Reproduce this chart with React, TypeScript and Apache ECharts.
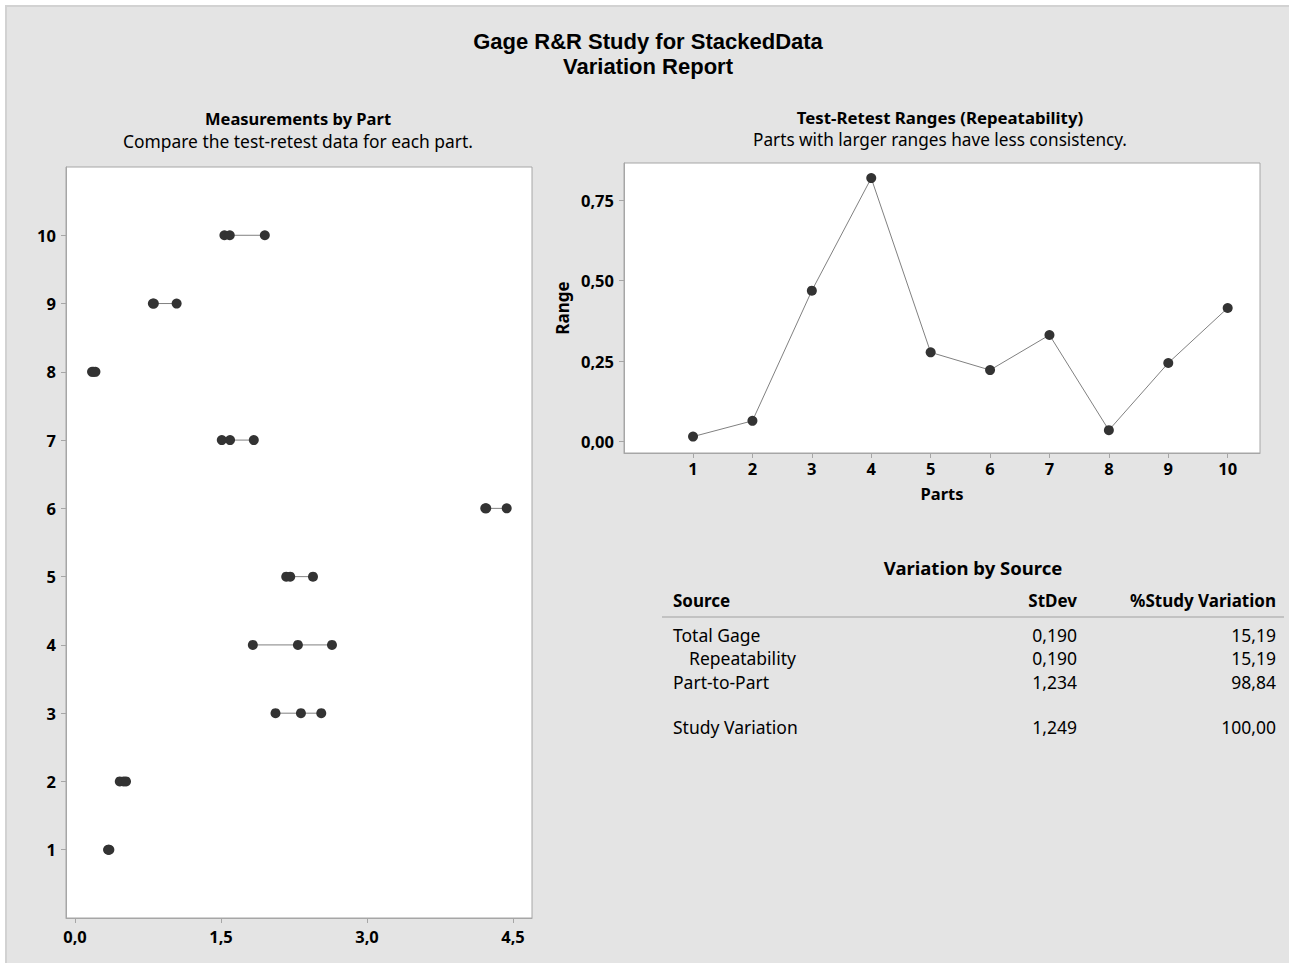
import React, { useEffect, useRef } from "react";
import * as echarts from "echarts";

// ---------- data ----------
const parts = [1, 2, 3, 4, 5, 6, 7, 8, 9, 10];
const measurements: number[][] = [
  [0.34, 0.345, 0.353],
  [0.46, 0.5, 0.524],
  [2.06, 2.321, 2.53],
  [1.827, 2.29, 2.64],
  [2.17, 2.211, 2.445],
  [4.215, 4.225, 4.435],
  [1.508, 1.593, 1.837],
  [0.175, 0.19, 0.21],
  [0.8, 0.81, 1.044],
  [1.535, 1.59, 1.95],
];
const ranges = [0.015, 0.064, 0.469, 0.819, 0.277, 0.222, 0.331, 0.035, 0.244, 0.415];

const measTicks = [0, 1.5, 3, 4.5];
const partTicks = [1, 2, 3, 4, 5, 6, 7, 8, 9, 10];
const rangeTicks = [0, 0.25, 0.5, 0.75];

const tableSources = ["Total Gage", "  Repeatability", "Part-to-Part", "", "Study Variation"];
const tableStDev = ["0,190", "0,190", "1,234", "", "1,249"];
const tablePct = ["15,19", "15,19", "98,84", "", "100,00"];

const FONT = '"Noto Sans", "Open Sans", sans-serif';
const TITLE_FONT = '"Liberation Sans", Arial, sans-serif';
const MARK = "#333333";
const LINE = "#808080";
const AXIS = "#a6a6a6";

const comma = (v: number, d: number) => v.toFixed(d).replace(".", ",");

export default function App() {
  const ref = useRef<HTMLDivElement>(null);

  useEffect(() => {
    if (!ref.current) return;
    const chart = echarts.init(ref.current, undefined, { renderer: "svg" });

    const partLines = measurements.map((m, i) => ({
      type: "line",
      xAxisIndex: 0,
      yAxisIndex: 0,
      data: [
        [Math.min(...m), parts[i]],
        [Math.max(...m), parts[i]],
      ],
      symbol: "none",
      lineStyle: { color: LINE, width: 1 },
      silent: true,
      z: 2,
    }));

    const scatterData: number[][] = [];
    measurements.forEach((m, i) => m.forEach((v) => scatterData.push([v, parts[i]])));

    const axisCommon = {
      axisLine: { show: true, onZero: false, lineStyle: { color: AXIS } },
      splitLine: { show: false },
    };

    const texts: any[] = [];
    const addText = (
      text: string,
      x: number,
      y: number,
      size: number,
      weight: string,
      align: string = "center",
      family: string = FONT
    ) =>
      texts.push({
        type: "text",
        x,
        y,
        style: {
          text,
          fill: "#000",
          fontSize: size,
          fontWeight: weight,
          fontFamily: family,
          textAlign: align,
          textVerticalAlign: "middle",
        },
      });

    addText("Gage R&R Study for StackedData", 648, 41, 22, "bold", "center", TITLE_FONT);
    addText("Variation Report", 648, 66, 22, "bold", "center", TITLE_FONT);
    addText("Measurements by Part", 298, 118, 16.5, "bold");
    addText("Compare the test-retest data for each part.", 298, 141, 17.4, "normal");
    addText("Test-Retest Ranges (Repeatability)", 940, 117, 16.8, "bold");
    addText("Parts with larger ranges have less consistency.", 940, 139, 17.2, "normal");

    addText("Variation by Source", 973, 567, 18.5, "bold");
    addText("Source", 673, 600, 17, "bold", "left");
    addText("StDev", 1077, 600, 17, "bold", "right");
    addText("%Study Variation", 1276, 600, 17, "bold", "right");
    const rowY = [635, 658, 682, 705, 727];
    tableSources.forEach((s, i) => {
      if (!s) return;
      const indent = s.startsWith("  ");
      addText(s.trim(), indent ? 689 : 673, rowY[i], 17.5, "normal", "left");
      addText(tableStDev[i], 1077, rowY[i], 17.5, "normal", "right");
      addText(tablePct[i], 1276, rowY[i], 17.5, "normal", "right");
    });
    texts.push({
      type: "line",
      shape: { x1: 662, y1: 617, x2: 1284, y2: 617 },
      style: { stroke: "#a0a0a0", lineWidth: 1 },
    });

    const tickLabel = { color: "#000", fontSize: 16.5, fontWeight: "bold", fontFamily: FONT };

    chart.setOption({
      animation: false,
      backgroundColor: "transparent",
      textStyle: { fontFamily: FONT },
      grid: [
        {
          left: 66,
          top: 167,
          width: 466,
          height: 751,
          show: true,
          backgroundColor: "#fff",
          borderColor: AXIS,
          borderWidth: 1,
        },
        {
          left: 624,
          top: 163,
          width: 636,
          height: 290,
          show: true,
          backgroundColor: "#fff",
          borderColor: AXIS,
          borderWidth: 1,
        },
      ],
      xAxis: [
        {
          gridIndex: 0,
          type: "value",
          min: -0.0925,
          max: 4.695,
          ...axisCommon,
          axisTick: { show: true, customValues: measTicks, length: 5, lineStyle: { color: AXIS } },
          axisLabel: {
            ...tickLabel,
            customValues: measTicks,
            margin: 10,
            formatter: (v: number) => comma(v, 1),
          },
        },
        {
          gridIndex: 1,
          type: "value",
          min: -0.162,
          max: 10.544,
          ...axisCommon,
          name: "Parts",
          nameLocation: "middle",
          nameGap: 32,
          nameTextStyle: { color: "#000", fontSize: 16.5, fontWeight: "bold", fontFamily: FONT },
          axisTick: { show: true, customValues: partTicks, length: 5, lineStyle: { color: AXIS } },
          axisLabel: {
            ...tickLabel,
            customValues: partTicks,
            margin: 7,
            formatter: (v: number) => String(Math.round(v)),
          },
        },
      ],
      yAxis: [
        {
          gridIndex: 0,
          type: "value",
          min: 0,
          max: 11,
          ...axisCommon,
          axisTick: { show: true, customValues: partTicks, length: 5, lineStyle: { color: AXIS } },
          axisLabel: {
            ...tickLabel,
            customValues: partTicks,
            margin: 10,
            formatter: (v: number) => String(Math.round(v)),
          },
        },
        {
          gridIndex: 1,
          type: "value",
          min: -0.036,
          max: 0.866,
          ...axisCommon,
          name: "Range",
          nameLocation: "middle",
          nameGap: 53,
          nameRotate: 90,
          nameTextStyle: { color: "#000", fontSize: 17, fontWeight: "bold", fontFamily: FONT },
          axisTick: { show: true, customValues: rangeTicks, length: 5, lineStyle: { color: AXIS } },
          axisLabel: {
            ...tickLabel,
            customValues: rangeTicks,
            margin: 10,
            formatter: (v: number) => comma(v, 2),
          },
        },
      ],
      series: [
        ...partLines,
        {
          type: "scatter",
          xAxisIndex: 0,
          yAxisIndex: 0,
          data: scatterData,
          symbol: "circle",
          symbolSize: 10,
          itemStyle: { color: MARK, opacity: 1 },
          z: 3,
        },
        {
          type: "line",
          xAxisIndex: 1,
          yAxisIndex: 1,
          data: parts.map((p, i) => [p, ranges[i]]),
          symbol: "circle",
          symbolSize: 10,
          showSymbol: true,
          itemStyle: { color: MARK },
          lineStyle: { color: LINE, width: 1 },
          z: 3,
        },
      ],
      graphic: { elements: texts },
    });

    return () => chart.dispose();
  }, []);

  return (
    <div style={{ position: "fixed", left: 0, top: 0, width: 1289, height: 963, background: "#fff" }}>
      <div
        style={{
          position: "absolute",
          left: 5,
          top: 5,
          width: 1284,
          height: 958,
          background: "#e4e4e4",
          borderTop: "2px solid #d2d2d2",
          borderLeft: "2px solid #d2d2d2",
          boxSizing: "border-box",
        }}
      />
      <div ref={ref} style={{ position: "absolute", left: 0, top: 0, width: 1289, height: 963 }} />
    </div>
  );
}
